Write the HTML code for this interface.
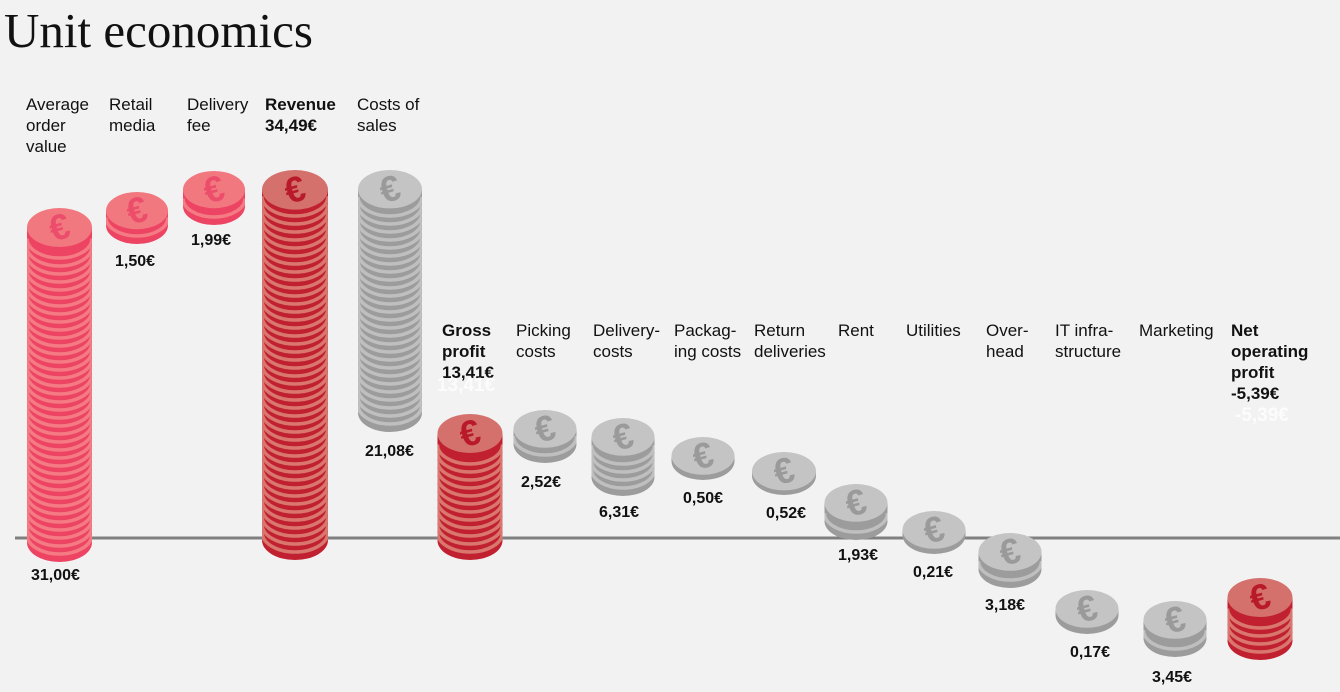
<!DOCTYPE html>
<html><head><meta charset="utf-8"><style>
body{margin:0;width:1340px;height:692px;background:#f2f2f2;overflow:hidden;position:relative;font-family:"Liberation Sans",sans-serif}
h1{position:absolute;left:4px;top:2px;margin:0;font:400 49px "Liberation Serif",serif;color:#111}
.l{position:absolute;font-size:17px;line-height:21px;color:#111}
.b{font-weight:bold;font-size:17px}
.v{position:absolute;font-size:16px;font-weight:bold;color:#111}
.g{position:absolute;font-size:19px;font-weight:bold;color:#fff}
svg{position:absolute;left:0;top:0}
</style></head><body>
<h1>Unit economics</h1>
<svg id="s" width="1340" height="692"></svg>
<div class="l" style="left:26px;top:94px">Average<br>order<br>value</div>
<div class="l" style="left:109px;top:94px">Retail<br>media</div>
<div class="l" style="left:187px;top:94px">Delivery<br>fee</div>
<div class="l b" style="left:265px;top:94px">Revenue<br>34,49€</div>
<div class="l" style="left:357px;top:94px">Costs of<br>sales</div>
<div class="l b" style="left:442px;top:320px">Gross<br>profit<br>13,41€</div>
<div class="g" style="left:437px;top:375px;opacity:.8">13,41€</div>
<div class="l" style="left:516px;top:320px">Picking<br>costs</div>
<div class="l" style="left:593px;top:320px">Delivery-<br>costs</div>
<div class="l" style="left:674px;top:320px">Packag-<br>ing costs</div>
<div class="l" style="left:754px;top:320px">Return<br>deliveries</div>
<div class="l" style="left:838px;top:320px">Rent</div>
<div class="l" style="left:906px;top:320px">Utilities</div>
<div class="l" style="left:986px;top:320px">Over-<br>head</div>
<div class="l" style="left:1055px;top:320px">IT infra-<br>structure</div>
<div class="l" style="left:1139px;top:320px">Marketing</div>
<div class="l b" style="left:1231px;top:320px">Net<br>operating<br>profit<br>-5,39€</div>
<div class="g" style="left:1235px;top:405px;opacity:.8">-5,39€</div>
<div class="v" style="left:31px;top:567px">31,00€</div>
<div class="v" style="left:115px;top:253px">1,50€</div>
<div class="v" style="left:191px;top:232px">1,99€</div>
<div class="v" style="left:365px;top:443px">21,08€</div>
<div class="v" style="left:521px;top:474px">2,52€</div>
<div class="v" style="left:599px;top:504px">6,31€</div>
<div class="v" style="left:683px;top:490px">0,50€</div>
<div class="v" style="left:766px;top:505px">0,52€</div>
<div class="v" style="left:838px;top:547px">1,93€</div>
<div class="v" style="left:913px;top:564px">0,21€</div>
<div class="v" style="left:985px;top:597px">3,18€</div>
<div class="v" style="left:1070px;top:644px">0,17€</div>
<div class="v" style="left:1152px;top:669px">3,45€</div>
<script>
var P={p:['#f27880','#ee4464','#f47a84','#ec4d6a'],r:['#d4716c','#c0202f','#d9776f','#b81a2c'],g:['#c4c4c4','#9c9c9c','#bfbfbf','#9a9a9a']};
var d=[[59.5,32.5,208,562,'p'],[137,31,192,244,'p'],[214,31,171,225,'p'],[295,33,170,560,'r'],[390,32,170,432,'g'],[470,32.5,414,560,'r'],[545,31.5,410,463,'g'],[623,31.5,418,496,'g'],[703,31.5,437,480,'g'],[784,32,452,495,'g'],[856,31.5,484,540,'g'],[934,31.5,511,554,'g'],[1010,31.5,533,588,'g'],[1087,31.5,590,634,'g'],[1175,31.5,601,657,'g'],[1260,32.5,578,660,'r']];
var h='<line x1="15" y1="538" x2="1340" y2="538" stroke="#808080" stroke-width="3"/>';
d.forEach(function(a,i){var cx=a[0],rx=a[1],t=a[2],b=a[3],c=P[a[4]],ry=rx*0.6;
var cyT=t+ry,cyB=b-ry;
h+='<clipPath id="c'+i+'"><rect x="'+(cx-rx)+'" y="0" width="'+(2*rx)+'" height="692"/></clipPath><g clip-path="url(#c'+i+')">';
h+='<ellipse cx="'+cx+'" cy="'+cyB+'" rx="'+rx+'" ry="'+ry+'" fill="'+c[1]+'"/>';
h+='<rect x="'+(cx-rx)+'" y="'+cyT+'" width="'+(2*rx)+'" height="'+(cyB-cyT)+'" fill="'+c[1]+'"/>';
for(var y=cyB-8;y>cyT+3;y-=8){h+='<path d="M'+(cx-rx)+' '+y+' A'+rx+' '+ry+' 0 0 0 '+(cx+rx)+' '+y+'" fill="none" stroke="'+c[2]+'" stroke-width="3.5"/>';}
h+='</g><ellipse cx="'+cx+'" cy="'+cyT+'" rx="'+rx+'" ry="'+ry+'" fill="'+c[0]+'"/>';
h+='<text x="'+cx+'" y="'+(cyT+12)+'" text-anchor="middle" font-family="Liberation Sans,sans-serif" font-weight="bold" font-size="36" fill="'+c[3]+'" transform="rotate(-15 '+cx+' '+cyT+')">€</text>';});
document.getElementById('s').innerHTML=h;
</script>
</body></html>
